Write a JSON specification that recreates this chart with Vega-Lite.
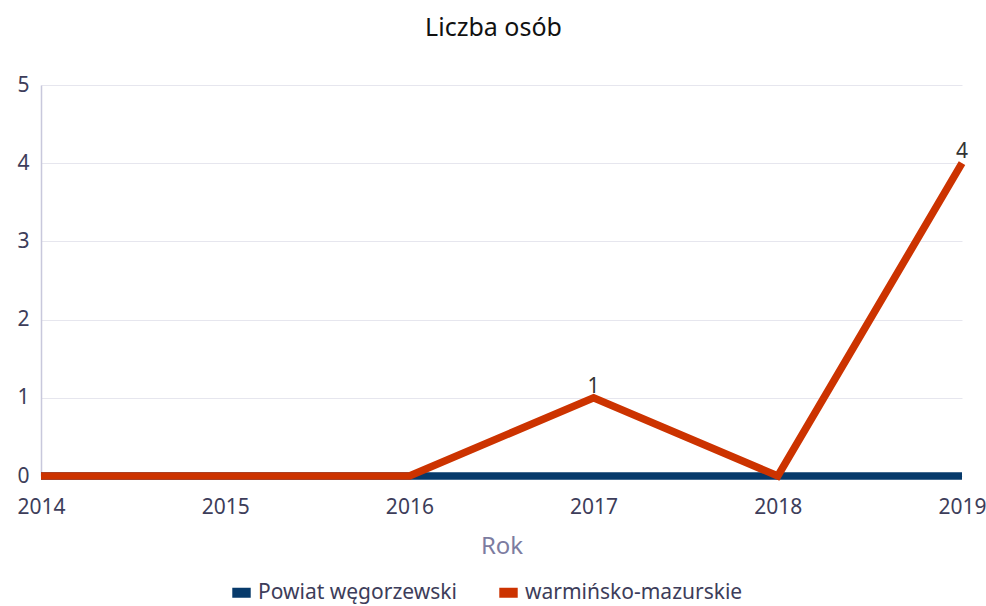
{
  "$schema": "https://vega.github.io/schema/vega-lite/v6.json",
  "width": 921,
  "height": 391,
  "autosize": {"type": "none"},
  "padding": {"left": 41, "top": 85, "right": 24, "bottom": 130},
  "background": "white",
  "title": {"text": "Liczba osób", "font": "Noto Sans", "fontSize": 25, "fontWeight": "normal", "color": "#111111", "offset": 33, "anchor": "middle", "dx": -8},
  "config": {
    "view": {"stroke": null},
    "font": "Noto Sans"
  },
  "data": {
    "values": [
      {"rok": "2014", "seria": "Powiat węgorzewski", "wartosc": 0},
      {"rok": "2015", "seria": "Powiat węgorzewski", "wartosc": 0},
      {"rok": "2016", "seria": "Powiat węgorzewski", "wartosc": 0},
      {"rok": "2017", "seria": "Powiat węgorzewski", "wartosc": 0},
      {"rok": "2018", "seria": "Powiat węgorzewski", "wartosc": 0},
      {"rok": "2019", "seria": "Powiat węgorzewski", "wartosc": 0},
      {"rok": "2014", "seria": "warmińsko-mazurskie", "wartosc": 0},
      {"rok": "2015", "seria": "warmińsko-mazurskie", "wartosc": 0},
      {"rok": "2016", "seria": "warmińsko-mazurskie", "wartosc": 0},
      {"rok": "2017", "seria": "warmińsko-mazurskie", "wartosc": 1},
      {"rok": "2018", "seria": "warmińsko-mazurskie", "wartosc": 0},
      {"rok": "2019", "seria": "warmińsko-mazurskie", "wartosc": 4}
    ]
  },
  "encoding": {
    "x": {
      "field": "rok", "type": "ordinal",
      "scale": {"type": "point", "padding": 0},
      "axis": {"title": "Rok", "titleFont": "Noto Sans", "titleFontSize": 24, "titleFontWeight": "normal", "titleColor": "#7c7ca0", "titlePadding": 17,
        "labelAngle": 0, "labelFont": "Noto Sans", "labelFontSize": 21, "labelColor": "#3d3d5a", "labelPadding": 20, "ticks": false, "domain": false, "grid": false}
    },
    "y": {
      "field": "wartosc", "type": "quantitative",
      "scale": {"domain": [0, 5], "nice": false},
      "axis": {"title": null, "values": [0,1,2,3,4,5], "labelOverlap": false, "labelFont": "Noto Sans", "labelFontSize": 21, "labelColor": "#3d3d5a", "labelPadding": 12, "ticks": false,
        "domain": true, "domainColor": "#c8c8dc", "domainWidth": 1.5, "gridColor": "#e6e6ee", "gridWidth": 1}
    }
  },
  "layer": [
    {
      "mark": {"type": "line", "strokeWidth": 7.5, "strokeCap": "butt", "strokeJoin": "miter"},
      "encoding": {
        "color": {
          "field": "seria", "type": "nominal",
          "scale": {"domain": ["Powiat węgorzewski", "warmińsko-mazurskie"], "range": ["#073a6b", "#cc3300"]},
          "legend": {"title": null, "orient": "none", "legendX": 186, "legendY": 493, "direction": "horizontal",
            "labelFontSize": 21, "labelColor": "#3d3d5a", "labelFont": "Noto Sans", "labelLimit": 0,
            "symbolType": "M-1,0H1", "symbolSize": 340, "symbolStrokeWidth": 10,
            "columnPadding": 22, "symbolOffset": 0, "labelOffset": 2}
        }
      }
    },
    {
      "transform": [{"filter": "datum.wartosc > 0"}],
      "mark": {"type": "text", "dy": -11, "fontSize": 21, "font": "Noto Sans", "color": "#333333"},
      "encoding": {"text": {"field": "wartosc", "type": "quantitative"}}
    }
  ]
}
